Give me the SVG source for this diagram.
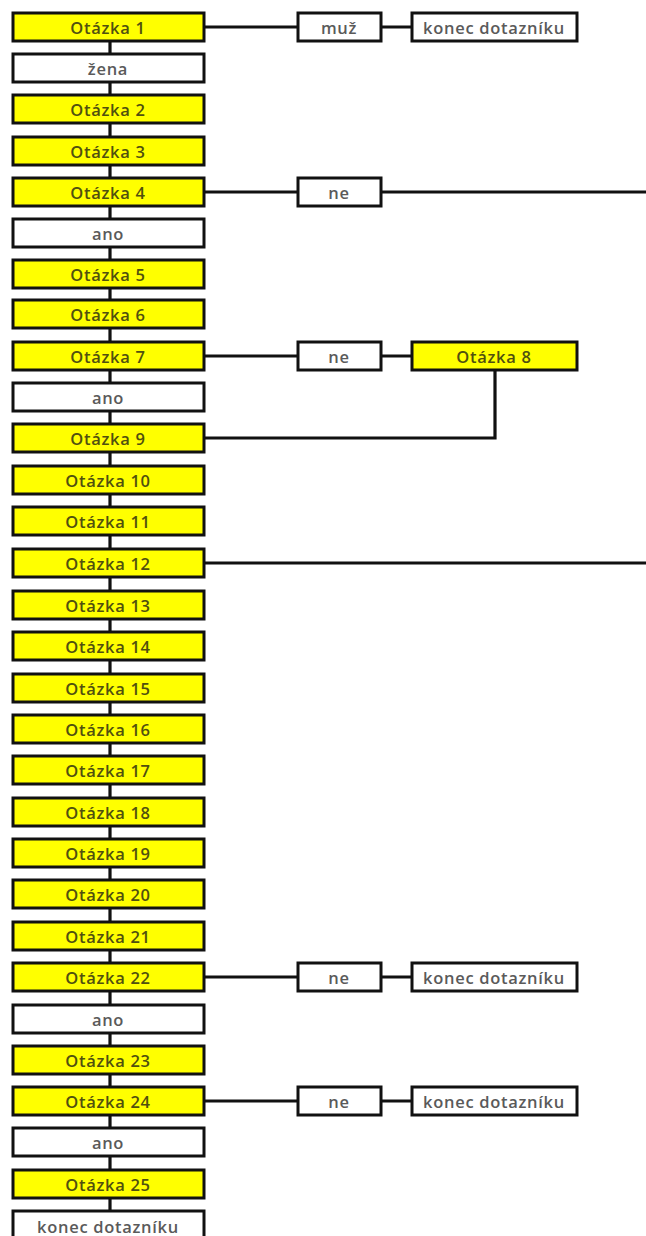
<svg xmlns="http://www.w3.org/2000/svg" width="646" height="1236" viewBox="0 0 646 1236">
<style>
.y{fill:#ffff00;stroke:#111;stroke-width:3}
.w{fill:#fff;stroke:#111;stroke-width:3}
.ty{font-family:"Open Sans","Liberation Sans",sans-serif;font-size:16.5px;font-weight:600;letter-spacing:0.7px;fill:#50500f;text-anchor:middle;dominant-baseline:central}
.tw{font-family:"Open Sans","Liberation Sans",sans-serif;font-size:16.5px;font-weight:600;letter-spacing:0.7px;fill:#5a5a5a;text-anchor:middle;dominant-baseline:central}
.c{stroke:#111;stroke-width:3.2;fill:none}
</style>
<rect width="646" height="1236" fill="#fff"/>
<g id="connectors">
<path class="c" d="M110 41V1211"/>
<path class="c" d="M204 27H298M381 27H412"/>
<path class="c" d="M204 192H298M381 192H646"/>
<path class="c" d="M204 356H298M381 356H412"/>
<path class="c" d="M495 370V438H204"/>
<path class="c" d="M204 563H646"/>
<path class="c" d="M204 977H298M381 977H412"/>
<path class="c" d="M204 1101H298M381 1101H412"/>
</g>
<g id="n0"><rect class="y" x="13" y="13" width="191" height="28"/><text class="ty" x="108" y="27">Otázka 1</text></g>
<g id="n1"><rect class="w" x="13" y="54" width="191" height="28"/><text class="tw" x="108" y="68">žena</text></g>
<g id="n2"><rect class="y" x="13" y="95" width="191" height="28"/><text class="ty" x="108" y="109">Otázka 2</text></g>
<g id="n3"><rect class="y" x="13" y="137" width="191" height="28"/><text class="ty" x="108" y="151">Otázka 3</text></g>
<g id="n4"><rect class="y" x="13" y="178" width="191" height="28"/><text class="ty" x="108" y="192">Otázka 4</text></g>
<g id="n5"><rect class="w" x="13" y="219" width="191" height="28"/><text class="tw" x="108" y="233">ano</text></g>
<g id="n6"><rect class="y" x="13" y="260" width="191" height="28"/><text class="ty" x="108" y="274">Otázka 5</text></g>
<g id="n7"><rect class="y" x="13" y="300" width="191" height="28"/><text class="ty" x="108" y="314">Otázka 6</text></g>
<g id="n8"><rect class="y" x="13" y="342" width="191" height="28"/><text class="ty" x="108" y="356">Otázka 7</text></g>
<g id="n9"><rect class="w" x="13" y="383" width="191" height="28"/><text class="tw" x="108" y="397">ano</text></g>
<g id="n10"><rect class="y" x="13" y="424" width="191" height="28"/><text class="ty" x="108" y="438">Otázka 9</text></g>
<g id="n11"><rect class="y" x="13" y="466" width="191" height="28"/><text class="ty" x="108" y="480">Otázka 10</text></g>
<g id="n12"><rect class="y" x="13" y="507" width="191" height="28"/><text class="ty" x="108" y="521">Otázka 11</text></g>
<g id="n13"><rect class="y" x="13" y="549" width="191" height="28"/><text class="ty" x="108" y="563">Otázka 12</text></g>
<g id="n14"><rect class="y" x="13" y="591" width="191" height="28"/><text class="ty" x="108" y="605">Otázka 13</text></g>
<g id="n15"><rect class="y" x="13" y="632" width="191" height="28"/><text class="ty" x="108" y="646">Otázka 14</text></g>
<g id="n16"><rect class="y" x="13" y="674" width="191" height="28"/><text class="ty" x="108" y="688">Otázka 15</text></g>
<g id="n17"><rect class="y" x="13" y="715" width="191" height="28"/><text class="ty" x="108" y="729">Otázka 16</text></g>
<g id="n18"><rect class="y" x="13" y="756" width="191" height="28"/><text class="ty" x="108" y="770">Otázka 17</text></g>
<g id="n19"><rect class="y" x="13" y="798" width="191" height="28"/><text class="ty" x="108" y="812">Otázka 18</text></g>
<g id="n20"><rect class="y" x="13" y="839" width="191" height="28"/><text class="ty" x="108" y="853">Otázka 19</text></g>
<g id="n21"><rect class="y" x="13" y="880" width="191" height="28"/><text class="ty" x="108" y="894">Otázka 20</text></g>
<g id="n22"><rect class="y" x="13" y="922" width="191" height="28"/><text class="ty" x="108" y="936">Otázka 21</text></g>
<g id="n23"><rect class="y" x="13" y="963" width="191" height="28"/><text class="ty" x="108" y="977">Otázka 22</text></g>
<g id="n24"><rect class="w" x="13" y="1005" width="191" height="28"/><text class="tw" x="108" y="1019">ano</text></g>
<g id="n25"><rect class="y" x="13" y="1046" width="191" height="28"/><text class="ty" x="108" y="1060">Otázka 23</text></g>
<g id="n26"><rect class="y" x="13" y="1087" width="191" height="28"/><text class="ty" x="108" y="1101">Otázka 24</text></g>
<g id="n27"><rect class="w" x="13" y="1128" width="191" height="28"/><text class="tw" x="108" y="1142">ano</text></g>
<g id="n28"><rect class="y" x="13" y="1170" width="191" height="28"/><text class="ty" x="108" y="1184">Otázka 25</text></g>
<g id="n29"><rect class="w" x="13" y="1211" width="191" height="28"/><text class="tw" x="108" y="1226">konec dotazníku</text></g>
<g id="s1"><rect class="w" x="298" y="13" width="83" height="28"/><text class="tw" x="339" y="27">muž</text></g>
<g id="s2"><rect class="w" x="412" y="13" width="165" height="28"/><text class="tw" x="494" y="27">konec dotazníku</text></g>
<g id="s3"><rect class="w" x="298" y="178" width="83" height="28"/><text class="tw" x="339" y="192">ne</text></g>
<g id="s4"><rect class="w" x="298" y="342" width="83" height="28"/><text class="tw" x="339" y="356">ne</text></g>
<g id="s5"><rect class="y" x="412" y="342" width="165" height="28"/><text class="ty" x="494" y="356">Otázka 8</text></g>
<g id="s6"><rect class="w" x="298" y="963" width="83" height="28"/><text class="tw" x="339" y="977">ne</text></g>
<g id="s7"><rect class="w" x="412" y="963" width="165" height="28"/><text class="tw" x="494" y="977">konec dotazníku</text></g>
<g id="s8"><rect class="w" x="298" y="1087" width="83" height="28"/><text class="tw" x="339" y="1101">ne</text></g>
<g id="s9"><rect class="w" x="412" y="1087" width="165" height="28"/><text class="tw" x="494" y="1101">konec dotazníku</text></g>
</svg>
